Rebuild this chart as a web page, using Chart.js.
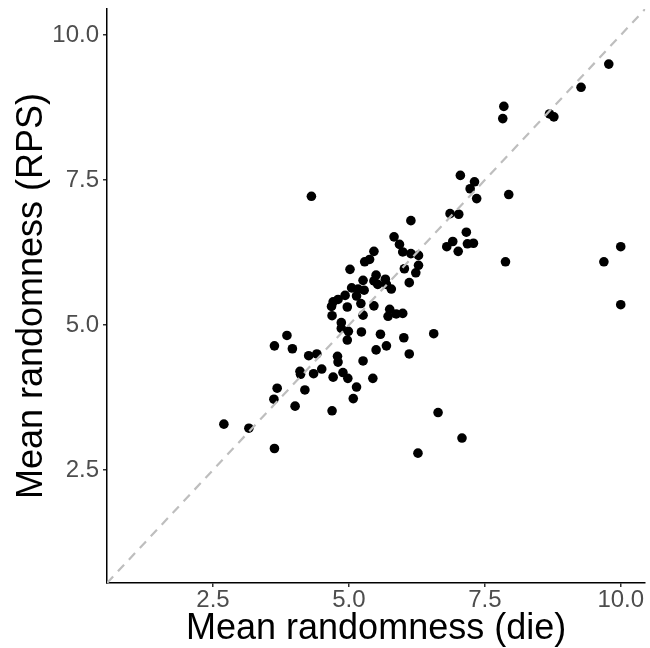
<!DOCTYPE html>
<html>
<head>
<meta charset="utf-8">
<script src="https://cdn.jsdelivr.net/npm/chart.js@4"></script>
<style>
  html, body { margin: 0; padding: 0; background: #ffffff; }
  #wrap { width: 650px; height: 648px; }
</style>
</head>
<body>
<div id="wrap"><canvas id="scatter" width="650" height="648"></canvas></div>
<script>
// mean randomness per participant, die task (x) and rock-paper-scissors task (y)
const dieMeans = [
  6.14, 5.83, 5.93, 5.99, 6.14, 6.28, 6.80, 5.46, 5.29, 5.38,
  5.02, 6.28, 6.02, 6.23, 6.11, 5.50, 5.46, 5.67, 5.69, 5.78,
  5.53, 5.26, 5.05, 5.17, 5.28, 4.93, 5.14, 4.80, 4.71, 4.68,
  4.97, 5.22, 5.46, 4.69, 5.26, 5.75, 5.72, 5.87, 5.99, 4.86,
  4.86, 4.99, 5.23, 4.97, 5.58, 6.01, 6.56, 5.69, 5.50, 6.11,
  4.26, 4.41, 4.79, 4.80, 5.26, 4.10, 4.11, 4.50,
  3.86, 3.63, 3.96, 4.35, 4.71, 4.89, 4.98, 3.68, 4.19, 3.62,
  4.01, 4.69, 2.70, 3.16, 3.63,
  5.44, 5.14, 5.08,
  9.78, 9.27, 7.85, 7.83, 8.69, 8.77, 7.05, 7.31, 7.23, 7.35,
  7.94, 6.86, 7.02, 7.16, 6.91, 7.01, 7.18, 7.29, 7.88, 9.69,
  10.00, 10.00,
  6.64, 7.08, 6.27,
  4.31
];
const rpsMeans = [
  6.80, 6.52, 6.39, 6.26, 6.23, 6.20, 6.35, 6.27, 6.09, 6.13,
  5.96, 6.03, 5.97, 5.90, 5.73, 5.86, 5.76, 5.79, 5.70, 5.62,
  5.70, 5.77, 5.64, 5.62, 5.60, 5.51, 5.50, 5.44, 5.40, 5.32,
  5.31, 5.37, 5.33, 5.16, 5.17, 5.27, 5.15, 5.19, 5.20, 5.04,
  4.94, 4.89, 4.88, 4.74, 4.84, 4.78, 4.85, 4.64, 4.57, 4.50,
  4.47, 4.50, 4.46, 4.36, 4.38, 4.20, 4.15, 4.24,
  4.82, 4.64, 4.59, 4.16, 4.10, 4.18, 4.08, 3.91, 3.88, 3.72,
  3.60, 3.52, 3.29, 3.22, 2.87,
  4.08, 3.93, 3.73,
  9.50, 9.10, 8.77, 8.56, 8.64, 8.59, 7.58, 7.47, 7.35, 7.18,
  7.25, 6.92, 6.91, 6.60, 6.44, 6.27, 6.40, 6.41, 6.09, 6.09,
  6.35, 5.35,
  3.49, 3.05, 2.79,
  7.22
];
const tickValues = [2.5, 5.0, 7.5, 10.0];
const axisMin = 0.55;
const axisMax = 10.45;

const points = dieMeans.map((x, i) => ({ x: x, y: rpsMeans[i] }));
const identityLine = [
  { x: axisMin, y: axisMin },
  { x: axisMax, y: axisMax },
];

const family = "'Liberation Sans', Arial, sans-serif";
const tickFont = { family: family, size: 24, lineHeight: 1 };

function fixedTicks(scale) {
  scale.ticks = tickValues.map((v) => ({ value: v }));
}

// the x scale keeps a right margin from its own label padding, drop it
function fitXAxis(s) {
  s.height = 65;
  s.paddingLeft = 0;
  s.paddingRight = 0;
  if (s._margins) {
    s._margins.right = 0;
    s.width = s._length = s.chart.width - s._margins.left - 1;
  }
}

const ctx = document.getElementById("scatter").getContext("2d");
new Chart(ctx, {
  type: "scatter",
  data: {
    datasets: [
      {
        data: points,
        backgroundColor: "#000000",
        borderWidth: 0,
        pointRadius: 4.8,
        pointHoverRadius: 4.8,
        order: 2,
      },
      {
        type: "line",
        data: identityLine,
        borderColor: "#bebebe",
        borderWidth: 2.2,
        borderDash: [9, 7],
        pointRadius: 0,
        fill: false,
        order: 1,
      },
    ],
  },
  options: {
    responsive: false,
    animation: false,
    devicePixelRatio: 1,
    layout: { padding: { top: 9, right: 1, bottom: 0, left: 0 } },
    plugins: {
      legend: { display: false },
      tooltip: { enabled: false },
    },
    scales: {
      x: {
        type: "linear",
        min: axisMin,
        max: axisMax,
        afterBuildTicks: fixedTicks,
        afterFit: fitXAxis,
        border: { display: true, color: "#000000", width: 1.5 },
        grid: { drawOnChartArea: false, drawTicks: true, tickLength: 4, color: "#333333", lineWidth: 1.5 },
        ticks: {
          font: tickFont,
          color: "#4d4d4d",
          padding: 1,
          maxRotation: 0,
          callback: (v) => v.toFixed(1),
        },
        title: {
          display: true,
          text: "Mean randomness (die)",
          font: { family: family, size: 36, lineHeight: 1.05 },
          color: "#000000",
          padding: { top: 0, bottom: 0 },
        },
      },
      y: {
        type: "linear",
        min: axisMin,
        max: axisMax,
        afterBuildTicks: fixedTicks,
        afterFit: (s) => {
          s.width = 107;
          s.paddingTop = 0;
          s.paddingBottom = 0;
        },
        border: { display: true, color: "#000000", width: 1.5 },
        grid: { drawOnChartArea: false, drawTicks: true, tickLength: 4, color: "#333333", lineWidth: 1.5 },
        ticks: {
          font: tickFont,
          color: "#4d4d4d",
          padding: 4,
          callback: (v) => v.toFixed(1),
        },
        title: {
          display: true,
          text: "Mean randomness (RPS)",
          font: { family: family, size: 36, lineHeight: 1.2 },
          color: "#000000",
          padding: { top: 10, bottom: 0 },
        },
      },
    },
  },
});
</script>
</body>
</html>
